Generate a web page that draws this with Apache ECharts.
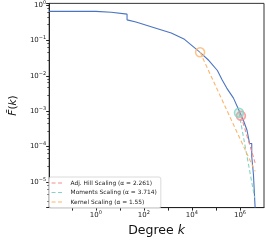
<!DOCTYPE html>
<html><head><meta charset="utf-8">
<script src="https://cdn.jsdelivr.net/npm/echarts@6/dist/echarts.min.js"></script>
<style>html,body{margin:0;padding:0;background:#fff}#c{width:266px;height:242px}</style>
</head><body><div id="c"></div>
<script>
// Empirical CCDF (step curve)
const blueX = [0.0115, 1, 1, 4.4, 4.4, 20, 20, 47, 370, 1380, 4900, 21900, 51000, 115000, 182000, 282000, 537000, 933000, 1410000, 1950000, 2510000, 3090000, 3090000, 3630000, 3630000, 4270000, 4270000];
const blueY = [0.66, 0.66, 0.62, 0.62, 0.55, 0.55, 0.38, 0.33, 0.214, 0.162, 0.107, 0.046, 0.027, 0.0141, 0.0076, 0.0045, 0.00234, 0.00102, 0.00054, 0.000295, 0.000123, 0.000123, 0.0000525, 0.0000525, 0.0000166, 0.0000166, 0.0000019];
// Fitted tails: [start, end]
const hillX = [1100000, 4270000];
const hillY = [0.00074, 0.000035];
const momX = [910000, 4070000];
const momY = [0.00091, 0.0000036];
const kerX = [21900, 4270000];
const kerY = [0.046, 0.00002];
const seriesNames = ['Adj. Hill Scaling (α = 2.261)', 'Moments Scaling (α = 3.714)', 'Kernel Scaling (α = 1.55)'];
const xTickExps = [0, 2, 4, 6];
const yTickExps = [-5, -4, -3, -2, -1, 0];

const zip = (a, b) => a.map((v, i) => [v, b[i]]);
const C_BLUE = '#4a74c2', C_RED = '#f58c8c', C_CYAN = '#85d3c4', C_ORANGE = '#fdb46c';
const FONT = 'DejaVu Sans';

function powLabel(exps) {
  return function (v) {
    const e = Math.log10(v);
    const r = Math.round(e);
    if (Math.abs(e - r) > 1e-6 || exps.indexOf(r) < 0) return '';
    const s = r < 0 ? '\u2212' + (-r) : '' + r;
    return '10{s|' + s + '}';
  };
}
const rich = { s: { fontSize: 5, verticalAlign: 'top', padding: [0, 0, 5, 0], fontFamily: FONT, color: '#222' } };

const chart = echarts.init(document.getElementById('c'), null, { renderer: 'canvas' });
chart.setOption({
  animation: false,
  backgroundColor: '#fff',
  grid: { left: 46, right: 2, top: 3, bottom: 30, show: true, borderColor: '#333', borderWidth: 1, backgroundColor: 'transparent' },
  xAxis: {
    type: 'log', logBase: 10, min: 0.0115, max: 1e7,
    name: '{n|Degree }{i|k}', nameLocation: 'middle', nameGap: 16,
    nameTextStyle: { rich: { n: { fontSize: 12.5, fontFamily: FONT, color: '#111' }, i: { fontSize: 12.5, fontFamily: FONT, fontStyle: 'italic', color: '#111' } } },
    axisLine: { lineStyle: { color: '#222', width: 1 } },
    axisTick: { inside: false, length: 3, lineStyle: { color: '#222' } },
    splitLine: { show: false },
    axisLabel: { fontSize: 7, fontFamily: FONT, color: '#222', margin: 3, formatter: powLabel(xTickExps), rich: rich, showMinLabel: false, showMaxLabel: false }
  },
  yAxis: {
    type: 'log', logBase: 10, min: 0.0000019, max: 1.11,
    name: '{i|F̄}{n|(}{i|k}{n|)}', nameLocation: 'middle', nameGap: 27, nameRotate: 90,
    nameTextStyle: { rich: { n: { fontSize: 10.5, fontFamily: FONT, color: '#111' }, i: { fontSize: 10.5, fontFamily: FONT, fontStyle: 'italic', color: '#111' } } },
    axisLine: { lineStyle: { color: '#222', width: 1 } },
    axisTick: { inside: false, length: 3, lineStyle: { color: '#222' } },
    minorTick: { show: true, splitNumber: 5, length: 1.8, lineStyle: { color: '#444' } },
    splitLine: { show: false },
    axisLabel: { fontSize: 7, fontFamily: FONT, color: '#222', margin: 3, formatter: powLabel(yTickExps), rich: rich, showMinLabel: false, showMaxLabel: false }
  },
  legend: {
    orient: 'vertical', left: 49, top: 177,
    data: seriesNames,
    itemWidth: 13, itemHeight: 5, itemGap: 3.5,
    padding: [3, 4, 3, 2],
    itemStyle: { opacity: 0 },
    lineStyle: { type: [4, 2.5], width: 1.1 },
    backgroundColor: 'rgba(255,255,255,0.85)', borderColor: '#d0d0d0', borderWidth: 0.8, borderRadius: 2,
    textStyle: { fontSize: 5.9, fontFamily: FONT, color: '#222', padding: [0, 0, 0, 1] }
  },
  series: [
    { type: 'line', name: 'ccdf', data: zip(blueX, blueY), symbol: 'none', lineStyle: { color: C_BLUE, width: 1.1 }, z: 2 },
    { type: 'line', name: seriesNames[0], data: zip(hillX, hillY), symbol: 'none', color: C_RED, lineStyle: { color: C_RED, width: 1.1, type: [4, 2.5] }, z: 3 },
    { type: 'line', name: seriesNames[1], data: zip(momX, momY), symbol: 'none', color: C_CYAN, lineStyle: { color: C_CYAN, width: 1.1, type: [4, 2.5] }, z: 3 },
    { type: 'line', name: seriesNames[2], data: zip(kerX, kerY), symbol: 'none', color: C_ORANGE, lineStyle: { color: C_ORANGE, width: 1.1, type: [4, 2.5] }, z: 3 },
    { type: 'scatter', data: [[hillX[0], hillY[0]]], symbol: 'circle', symbolSize: 9, itemStyle: { color: 'rgba(245,140,140,0.35)', borderColor: C_RED, borderWidth: 1.5 }, z: 4 },
    { type: 'scatter', data: [[momX[0], momY[0]]], symbol: 'circle', symbolSize: 9, itemStyle: { color: 'rgba(133,211,196,0.35)', borderColor: C_CYAN, borderWidth: 1.5 }, z: 5 },
    { type: 'scatter', data: [[kerX[0], kerY[0]]], symbol: 'circle', symbolSize: 9, itemStyle: { color: 'rgba(255,255,255,0.2)', borderColor: C_ORANGE, borderWidth: 1.5 }, z: 4 }
  ]
});
</script></body></html>
